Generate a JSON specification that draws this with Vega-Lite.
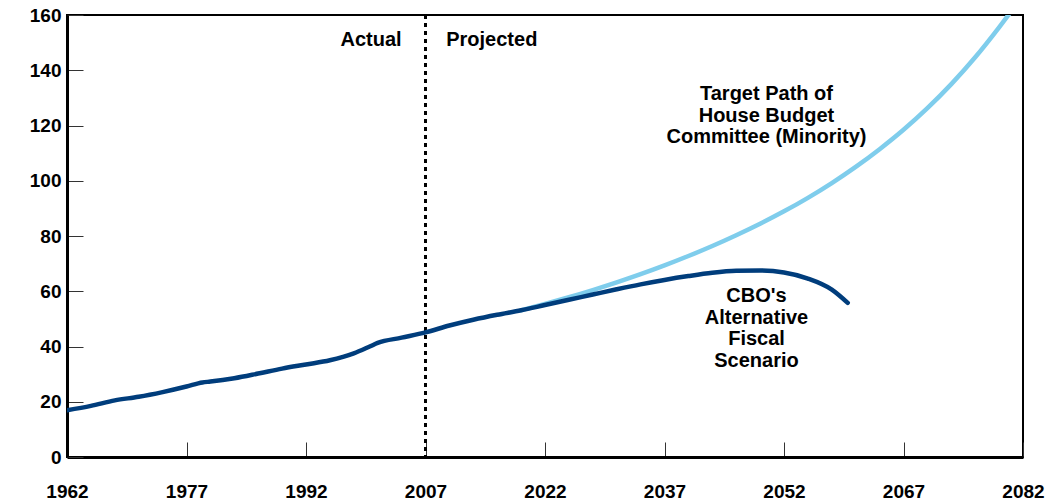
{
  "$schema": "https://vega.github.io/schema/vega-lite/v6.json",
  "width": 956,
  "height": 442,
  "autosize": {"type": "none"},
  "padding": {"left": 67, "top": 15, "right": 26, "bottom": 46},
  "config": {
    "view": {"stroke": "#000000", "strokeWidth": 2},
    "font": "Liberation Sans",
    "axis": {
      "labelFont": "Liberation Sans",
      "labelFontWeight": "bold",
      "labelFontSize": 19,
      "labelColor": "#000000",
      "domainColor": "#000000",
      "domainWidth": 3,
      "tickColor": "#333333",
      "tickWidth": 1,
      "grid": false,
      "title": null
    }
  },
  "datasets": {
    "series": [
      {"series": "Target", "year": 2019, "value": 53.1},
      {"series": "Target", "year": 2022, "value": 55.38},
      {"series": "Target", "year": 2025, "value": 57.82},
      {"series": "Target", "year": 2028, "value": 60.42},
      {"series": "Target", "year": 2031, "value": 63.2},
      {"series": "Target", "year": 2034, "value": 66.17},
      {"series": "Target", "year": 2037, "value": 69.35},
      {"series": "Target", "year": 2040, "value": 72.75},
      {"series": "Target", "year": 2043, "value": 76.38},
      {"series": "Target", "year": 2046, "value": 80.28},
      {"series": "Target", "year": 2049, "value": 84.45},
      {"series": "Target", "year": 2052, "value": 88.93},
      {"series": "Target", "year": 2055, "value": 93.82},
      {"series": "Target", "year": 2058, "value": 99.17},
      {"series": "Target", "year": 2061, "value": 105.02},
      {"series": "Target", "year": 2064, "value": 111.43},
      {"series": "Target", "year": 2067, "value": 118.45},
      {"series": "Target", "year": 2070, "value": 126.27},
      {"series": "Target", "year": 2073, "value": 134.98},
      {"series": "Target", "year": 2076, "value": 144.7},
      {"series": "Target", "year": 2079, "value": 155.55},
      {"series": "Target", "year": 2080.3, "value": 160.5},
      {"series": "CBO", "year": 1962, "value": 16.9},
      {"series": "CBO", "year": 1965, "value": 18.5},
      {"series": "CBO", "year": 1968, "value": 20.5},
      {"series": "CBO", "year": 1971, "value": 21.8},
      {"series": "CBO", "year": 1974, "value": 23.5},
      {"series": "CBO", "year": 1977, "value": 25.5},
      {"series": "CBO", "year": 1979, "value": 27},
      {"series": "CBO", "year": 1980, "value": 27.3},
      {"series": "CBO", "year": 1983, "value": 28.5},
      {"series": "CBO", "year": 1986, "value": 30.2},
      {"series": "CBO", "year": 1989, "value": 32},
      {"series": "CBO", "year": 1992, "value": 33.5},
      {"series": "CBO", "year": 1995, "value": 35},
      {"series": "CBO", "year": 1998, "value": 37.5},
      {"series": "CBO", "year": 2000, "value": 40},
      {"series": "CBO", "year": 2001, "value": 41.3},
      {"series": "CBO", "year": 2004, "value": 43.2},
      {"series": "CBO", "year": 2007, "value": 45.1},
      {"series": "CBO", "year": 2010, "value": 47.6},
      {"series": "CBO", "year": 2013, "value": 49.7},
      {"series": "CBO", "year": 2016, "value": 51.5},
      {"series": "CBO", "year": 2019, "value": 53.1},
      {"series": "CBO", "year": 2022, "value": 55},
      {"series": "CBO", "year": 2025, "value": 56.9},
      {"series": "CBO", "year": 2028, "value": 58.8},
      {"series": "CBO", "year": 2031, "value": 60.7},
      {"series": "CBO", "year": 2034, "value": 62.5},
      {"series": "CBO", "year": 2037, "value": 64.1},
      {"series": "CBO", "year": 2040, "value": 65.5},
      {"series": "CBO", "year": 2043, "value": 66.7},
      {"series": "CBO", "year": 2046, "value": 67.4},
      {"series": "CBO", "year": 2049, "value": 67.5},
      {"series": "CBO", "year": 2052, "value": 66.8},
      {"series": "CBO", "year": 2055, "value": 64.6},
      {"series": "CBO", "year": 2058, "value": 60.6},
      {"series": "CBO", "year": 2060, "value": 55.8}
    ],
    "labels": [
      {"label": "Actual", "year": 2004.0, "value": 148.7, "align": "right"},
      {"label": "Projected", "year": 2009.6, "value": 148.7, "align": "left"},
      {"label": "Target Path of\nHouse Budget\nCommittee (Minority)", "year": 2049.8, "value": 129.2, "align": "center"},
      {"label": "CBO's\nAlternative\nFiscal\nScenario", "year": 2048.55, "value": 56.1, "align": "center"}
    ],
    "divider": [{"year": 2007}]
  },
  "layer": [
    {
      "data": {"name": "divider"},
      "mark": {"type": "rule", "color": "#000000", "strokeWidth": 3, "strokeDash": [4, 4]},
      "encoding": {
        "x": {"field": "year", "type": "quantitative", "scale": {"domain": [1962, 2082], "nice": false, "zero": false},
          "axis": {"values": [1962, 1977, 1992, 2007, 2022, 2037, 2052, 2067, 2082], "format": "d", "tickSize": -15, "labelPadding": 40, "labelAlign": "center"}}
      }
    },
    {
      "data": {"name": "series"},
      "transform": [{"filter": "datum.series === 'Target'"}],
      "mark": {"type": "line", "color": "#7fcdec", "strokeWidth": 4.5, "clip": true, "interpolate": "monotone", "strokeCap": "round"},
      "encoding": {
        "x": {"field": "year", "type": "quantitative"},
        "y": {"field": "value", "type": "quantitative", "scale": {"domain": [0, 160], "nice": false},
          "axis": {"values": [0, 20, 40, 60, 80, 100, 120, 140, 160], "tickSize": -16, "labelPadding": 22}}
      }
    },
    {
      "data": {"name": "series"},
      "transform": [{"filter": "datum.series === 'CBO'"}],
      "mark": {"type": "line", "color": "#003d7c", "strokeWidth": 4.5, "clip": true, "interpolate": "monotone", "strokeCap": "round"},
      "encoding": {
        "x": {"field": "year", "type": "quantitative"},
        "y": {"field": "value", "type": "quantitative"}
      }
    },
    {
      "data": {"name": "labels"},
      "transform": [{"filter": "datum.align === 'right'"}],
      "mark": {"type": "text", "font": "Liberation Sans", "fontWeight": "bold", "fontSize": 20, "align": "right", "baseline": "alphabetic", "color": "#000000"},
      "encoding": {
        "x": {"field": "year", "type": "quantitative"},
        "y": {"field": "value", "type": "quantitative"},
        "text": {"field": "label"}
      }
    },
    {
      "data": {"name": "labels"},
      "transform": [{"filter": "datum.align === 'left'"}],
      "mark": {"type": "text", "font": "Liberation Sans", "fontWeight": "bold", "fontSize": 20, "align": "left", "baseline": "alphabetic", "color": "#000000"},
      "encoding": {
        "x": {"field": "year", "type": "quantitative"},
        "y": {"field": "value", "type": "quantitative"},
        "text": {"field": "label"}
      }
    },
    {
      "data": {"name": "labels"},
      "transform": [{"filter": "datum.align === 'center'"}],
      "mark": {"type": "text", "font": "Liberation Sans", "fontWeight": "bold", "fontSize": 20, "lineBreak": "\n", "lineHeight": 21.5, "align": "center", "baseline": "alphabetic", "color": "#000000"},
      "encoding": {
        "x": {"field": "year", "type": "quantitative"},
        "y": {"field": "value", "type": "quantitative"},
        "text": {"field": "label"}
      }
    }
  ]
}
